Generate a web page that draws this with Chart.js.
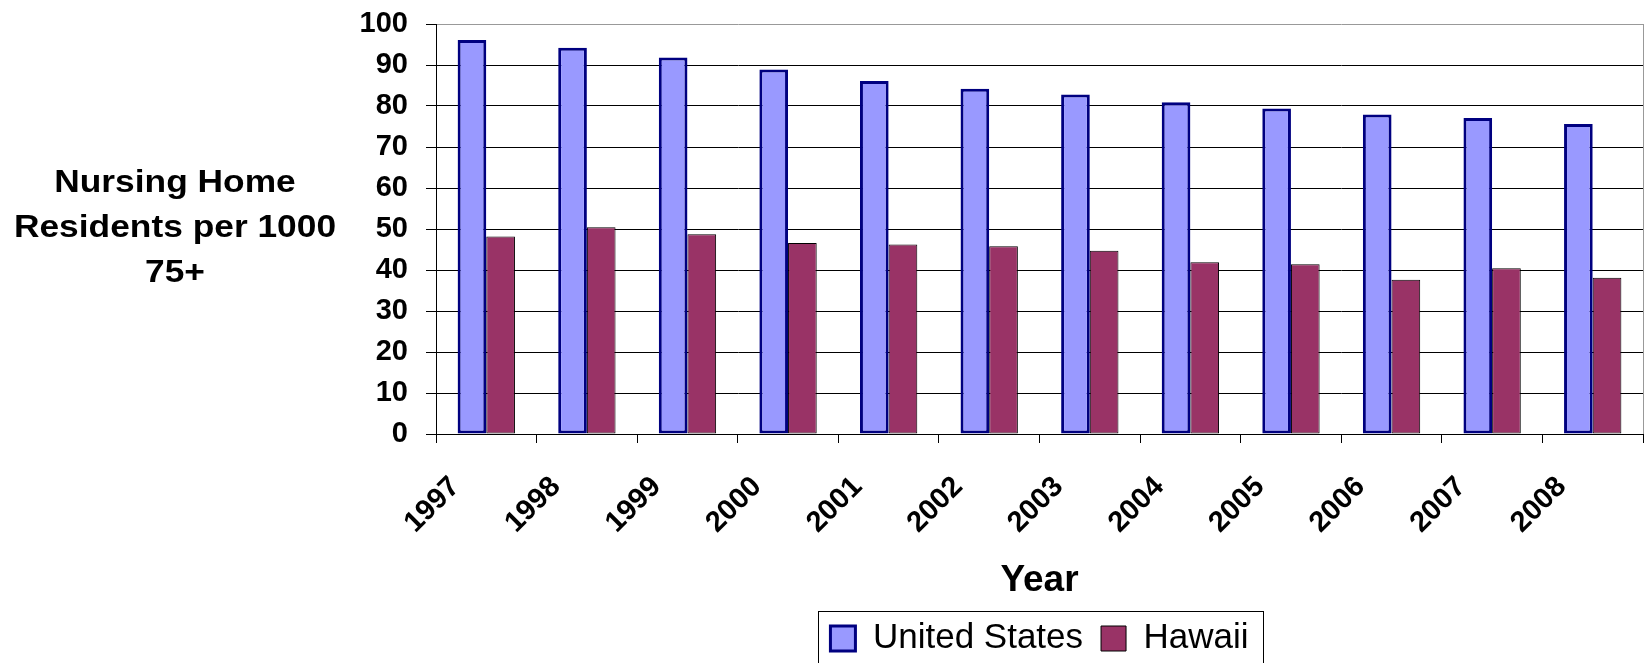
<!DOCTYPE html>
<html>
<head>
<meta charset="utf-8">
<script src="https://cdn.jsdelivr.net/npm/chart.js@4/dist/chart.umd.min.js"></script>
<style>
  html, body { margin: 0; padding: 0; background: #fff; }
  #wrap { width: 1648px; height: 663px; }
</style>
</head>
<body>
<div id="wrap"><canvas id="canvas" width="1648" height="663"></canvas></div>
<script>
const years = ['1997', '1998', '1999', '2000', '2001', '2002', '2003', '2004', '2005', '2006', '2007', '2008']
const unitedStates = [96.1, 94.2, 91.8, 88.9, 86.1, 84.2, 82.8, 80.9, 79.4, 77.9, 77.1, 75.6]
const hawaii = [48.2, 50.4, 48.7, 46.6, 46.2, 45.8, 44.7, 41.9, 41.4, 37.6, 40.4, 38.1]
const yTitleLines = ['Nursing Home', 'Residents per 1000', '75+']
const xTitle = 'Year'

const FONT = "'Liberation Sans', Arial, sans-serif"

// horizontal y-axis caption on the left, slightly widened like the original
const sideTitle = {
    id: 'sideTitle',
    afterDraw(chart) {
        const ctx = chart.ctx
        ctx.save()
        ctx.fillStyle = '#000'
        ctx.font = 'bold 31px ' + FONT
        ctx.textAlign = 'center'
        ctx.textBaseline = 'middle'
        yTitleLines.forEach((line, i) => {
            ctx.save()
            ctx.translate(175, 183 + i * 45)
            ctx.scale(1.14, 1)
            ctx.fillText(line, 0, 0)
            ctx.restore()
        })
        ctx.restore()
    },
}

// gray right edge of the plot and a frame round the legend
const frames = {
    id: 'frames',
    afterDraw(chart) {
        const ctx = chart.ctx
        const area = chart.chartArea
        ctx.save()
        ctx.strokeStyle = '#999999'
        ctx.lineWidth = 1
        ctx.beginPath()
        ctx.moveTo(Math.round(area.right) + 0.5, area.top)
        ctx.lineTo(Math.round(area.right) + 0.5, area.bottom)
        ctx.stroke()

        const lg = chart.legend
        const boxes = lg.legendHitBoxes
        if (boxes && boxes.length) {
            const first = boxes[0]
            const last = boxes[boxes.length - 1]
            const x0 = Math.round(first.left - 12) + 0.5
            const x1 = Math.round(last.left + last.width + 14) + 0.5
            const y0 = 611.5
            ctx.strokeStyle = '#000'
            ctx.strokeRect(x0, y0, x1 - x0, chart.height + 10 - y0)
        }
        ctx.restore()
    },
}

new Chart(document.getElementById('canvas').getContext('2d'), {
    type: 'bar',
    data: {
        labels: years,
        datasets: [
            {
                label: 'United States',
                data: unitedStates,
                backgroundColor: '#9999FF',
                borderColor: '#000080',
                borderWidth: 3,
                borderSkipped: false,
            },
            {
                label: 'Hawaii',
                data: hawaii,
                backgroundColor: '#993366',
                borderColor: '#000000',
                borderWidth: 1,
                borderSkipped: false,
            },
        ],
    },
    options: {
        responsive: false,
        animation: false,
        devicePixelRatio: 1,
        categoryPercentage: 0.57,
        barPercentage: 1.0,
        layout: {
            padding: {left: 0, right: 5, top: 24, bottom: -3},
        },
        plugins: {
            tooltip: {enabled: false},
            legend: {
                position: 'bottom',
                fullSize: false,
                labels: {
                    color: '#000',
                    font: {family: FONT, size: 35},
                    boxWidth: 25,
                    boxHeight: 25,
                    padding: 18,
                },
            },
        },
        scales: {
            x: {
                afterFit: (scale) => { scale.height = 169 },
                grid: {
                    display: true,
                    drawOnChartArea: false,
                    drawTicks: true,
                    tickLength: 9,
                    tickColor: '#000',
                    offset: true,
                },
                border: {display: true, color: '#000', width: 1},
                ticks: {
                    color: '#000',
                    font: {family: FONT, size: 29, weight: 'bold'},
                    minRotation: 45,
                    maxRotation: 45,
                    autoSkip: false,
                    padding: 27,
                    labelOffset: -31,
                },
                title: {
                    display: true,
                    text: xTitle,
                    color: '#000',
                    font: {family: FONT, size: 37, weight: 'bold'},
                    padding: {top: 0, bottom: 0},
                },
            },
            y: {
                min: 0,
                max: 100,
                afterFit: (scale) => {
                    scale.width = 436
                    // keep the plot top at the layout padding
                    scale.paddingTop = 0
                    scale.paddingBottom = 0
                },
                grid: {
                    color: (c) => (c.tick && c.tick.value === 100 ? '#999999' : '#000000'),
                    lineWidth: 1,
                    tickLength: 10,
                    tickColor: '#000',
                },
                border: {display: true, color: '#000', width: 1},
                ticks: {
                    stepSize: 10,
                    color: '#000',
                    padding: 18,
                    font: {family: FONT, size: 29, weight: 'bold'},
                },
            },
        },
    },
    plugins: [sideTitle, frames],
})
</script>
</body>
</html>
